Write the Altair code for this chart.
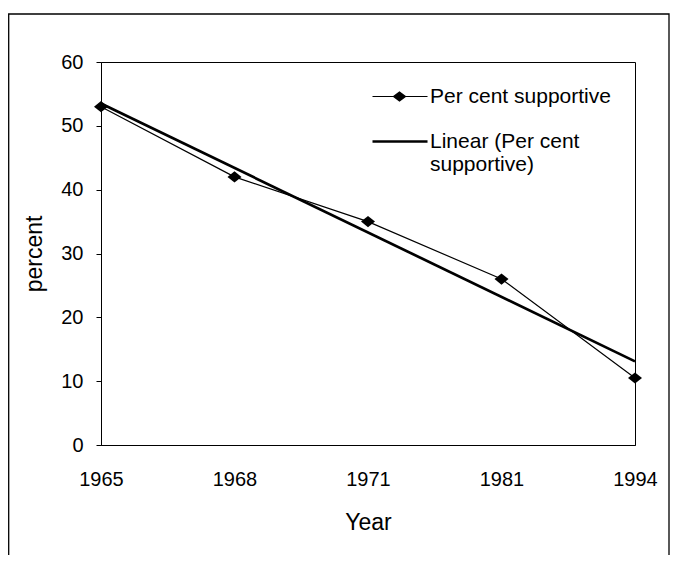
import json
import altair as alt
import pandas as pd

# ---- data ----
years = ["1965", "1968", "1971", "1981", "1994"]
percent_supportive = [53, 42, 35, 26, 10.5]
series_names = ["Per cent supportive", "Linear (Per cent supportive)"]
y_ticks = [0, 10, 20, 30, 40, 50, 60]

FONT = "Liberation Sans"

df = pd.DataFrame({
    "idx": list(range(len(years))),
    "year": years,
    "value": percent_supportive,
})
legend_df = pd.DataFrame({"series": series_names})
frame_df = pd.DataFrame({"a": [0]})

label_expr = f"{json.dumps(years)}[datum.value]"

x_enc = alt.X(
    "idx:Q",
    scale=alt.Scale(domain=[0, len(years) - 1], nice=False, zero=False),
    axis=alt.Axis(
        values=list(range(len(years))),
        labelExpr=label_expr,
        title="Year",
        ticks=False,
        labelPadding=24,
        titlePadding=22,
        labelFlush=False,
        grid=False,
    ),
)
y_enc = alt.Y(
    "value:Q",
    scale=alt.Scale(domain=[0, 60], nice=False),
    axis=alt.Axis(
        values=y_ticks,
        title="percent",
        tickSize=5,
        labelPadding=13,
        titlePadding=14,
        grid=False,
    ),
)

base = alt.Chart(df)

line = base.mark_line(color="black", strokeWidth=1.2).encode(x=x_enc, y=y_enc)

diamond_path = "M0,-0.8L1,0L0,0.8L-1,0Z"
points = base.mark_point(
    filled=True, color="black", shape=diamond_path, size=196, opacity=1
).encode(x="idx:Q", y="value:Q")

trend = (
    base.transform_regression("idx", "value")
    .mark_line(color="black", strokeWidth=2.7)
    .encode(x="idx:Q", y="value:Q")
)

# legend symbols (filled shapes: thin line + diamond, thick line)
sym_series = (
    "M-7.5,-0.09H1.67V0.09H-7.5Z"
    "M-3.0,-0.87L-1.83,0L-3.0,0.87L-4.17,0Z"
)
sym_linear = "M-7.5,-0.22H1.67V0.22H-7.5Z"

legend_label_expr = (
    f"datum.label == {json.dumps(series_names[1])} ? "
    f"{json.dumps(['Linear (Per cent', 'supportive)'])} : datum.label"
)

legend_layer = alt.Chart(legend_df).mark_point(
    filled=True, color="black", opacity=0
).encode(
    shape=alt.Shape(
        "series:N",
        scale=alt.Scale(domain=series_names, range=[sym_series, sym_linear]),
        legend=alt.Legend(
            title=None,
            orient="none",
            legendX=306,
            legendY=24,
            padding=0,
            symbolSize=144,
            symbolFillColor="black",
            symbolStrokeColor="black",
            symbolStrokeWidth=0,
            symbolOpacity=1,
            labelFont=FONT,
            labelFontSize=21,
            labelColor="black",
            labelLimit=400,
            labelOffset=2,
            rowPadding=23,
            labelExpr=legend_label_expr,
        ),
    )
)

frame = alt.Chart(frame_df).mark_rect(
    fillOpacity=0, stroke="black", strokeWidth=1.3
).encode(
    x=alt.value(-92.3),
    x2=alt.value(568),
    y=alt.value(-48),
    y2=alt.value(520),
)

chart = (
    alt.layer(frame, line, trend, points, legend_layer)
    .properties(
        width=534,
        height=383,
        autosize=alt.AutoSizeParams(type="none"),
        padding={"left": 93, "top": 54, "right": 35, "bottom": 110},
        background="white",
    )
    .configure_view(stroke="black", strokeWidth=1)
    .configure_axis(
        domainColor="black",
        tickColor="black",
        labelColor="black",
        titleColor="black",
        labelFont=FONT,
        titleFont=FONT,
        labelFontSize=20,
        titleFontSize=23,
        titleFontWeight="normal",
        domainWidth=1,
    )
)

chart.save("out.html", embed_options={"renderer": "svg", "actions": False})
